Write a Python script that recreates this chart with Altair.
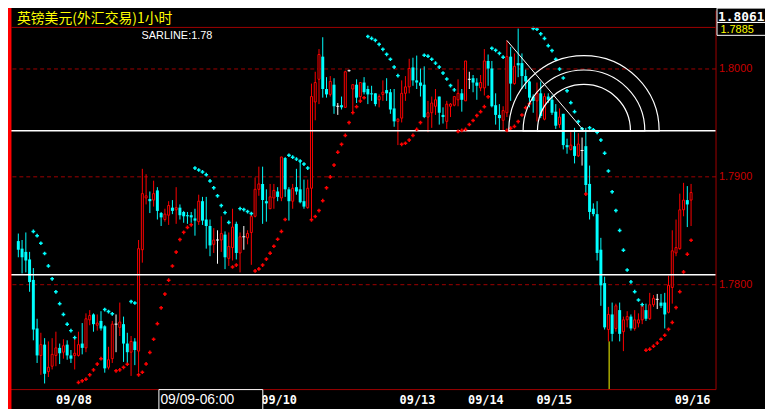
import altair as alt
import pandas as pd
import numpy as np

TITLE = "英镑美元(外汇交易)1小时"
SAR_LABEL = "SARLINE:1.78"
TOP_PRICE_LABEL = "1.8061"
CURSOR_LABEL = "09/09-06:00"

opens = [1.7840, 1.7833, 1.7830, 1.7823, 1.7804, 1.7759, 1.7734, 1.7744, 1.7719, 1.7724,
         1.7734, 1.7741, 1.7737, 1.7744, 1.7734, 1.7734, 1.7734, 1.7745, 1.7741, 1.7767,
         1.7772, 1.7762, 1.7766, 1.7761, 1.7723, 1.7731, 1.7763, 1.7760, 1.7763, 1.7745,
         1.7737, 1.7747, 1.7738, 1.7832, 1.7880, 1.7879, 1.7878, 1.7887, 1.7866, 1.7860,
         1.7864, 1.7871, 1.7869, 1.7871, 1.7867, 1.7864, 1.7864, 1.7861, 1.7858, 1.7877,
         1.7860, 1.7854, 1.7837, 1.7841, 1.7841, 1.7846, 1.7824, 1.7834, 1.7856, 1.7829,
         1.7844, 1.7843, 1.7848, 1.7863, 1.7888, 1.7893, 1.7877, 1.7870, 1.7880, 1.7886,
         1.7880, 1.7917, 1.7888, 1.7877, 1.7890, 1.7888, 1.7877, 1.7871, 1.7889, 1.7969,
         1.7990, 1.8011, 1.7981, 1.7976, 1.7985, 1.7965, 1.7966, 1.7964, 1.7998, 1.7981,
         1.7985, 1.7974, 1.7987, 1.7981, 1.7977, 1.7977, 1.7971, 1.7976, 1.7980, 1.7978,
         1.7963, 1.7951, 1.7954, 1.7977, 1.7983, 1.8001, 1.7989, 1.7987, 1.7985, 1.7955,
         1.7959, 1.7965, 1.7974, 1.7957, 1.7951, 1.7965, 1.7966, 1.7971, 1.7977, 1.7970,
         1.7990, 1.7991, 1.7987, 1.7982, 1.7982, 1.8007, 1.8000, 1.7966, 1.7957, 1.7952,
         1.7959, 1.8011, 1.7986, 1.8005, 1.8005, 1.7993, 1.7988, 1.7974, 1.7970, 1.7977,
         1.7953, 1.7974, 1.7971, 1.7960, 1.7948, 1.7958, 1.7929, 1.7925, 1.7928, 1.7919,
         1.7924, 1.7928, 1.7893, 1.7870, 1.7865, 1.7832, 1.7801, 1.7758, 1.7772, 1.7759,
         1.7776, 1.7756, 1.7767, 1.7770, 1.7759, 1.7764, 1.7767, 1.7776, 1.7768, 1.7781,
         1.7786, 1.7783, 1.7783, 1.7774, 1.7797, 1.7829, 1.7833, 1.7869, 1.7878, 1.7878]

highs = [1.7847, 1.7841, 1.7848, 1.7830, 1.7815, 1.7768, 1.7755, 1.7750, 1.7747, 1.7750,
         1.7756, 1.7745, 1.7749, 1.7748, 1.7739, 1.7750, 1.7756, 1.7764, 1.7773, 1.7776,
         1.7773, 1.7772, 1.7775, 1.7762, 1.7742, 1.7766, 1.7772, 1.7783, 1.7770, 1.7755,
         1.7752, 1.7750, 1.7841, 1.7907, 1.7902, 1.7886, 1.7896, 1.7890, 1.7867, 1.7870,
         1.7877, 1.7878, 1.7890, 1.7874, 1.7868, 1.7867, 1.7867, 1.7870, 1.7883, 1.7881,
         1.7881, 1.7860, 1.7852, 1.7850, 1.7863, 1.7849, 1.7848, 1.7870, 1.7858, 1.7848,
         1.7854, 1.7850, 1.7866, 1.7899, 1.7909, 1.7909, 1.7888, 1.7893, 1.7893, 1.7890,
         1.7918, 1.7918, 1.7890, 1.7893, 1.7907, 1.7915, 1.7897, 1.7897, 1.7986, 1.7997,
         1.8018, 1.8029, 1.7992, 1.7993, 1.7991, 1.7968, 1.7974, 1.7998, 1.7999, 1.7985,
         1.7990, 1.7987, 1.7992, 1.7984, 1.7984, 1.7977, 1.7976, 1.7989, 1.7991, 1.7981,
         1.7981, 1.7954, 1.7989, 1.7993, 1.8009, 1.8010, 1.8012, 1.8000, 1.8002, 1.7970,
         1.7974, 1.7981, 1.7974, 1.7964, 1.7970, 1.7968, 1.7974, 1.7990, 1.7981, 1.8007,
         1.7997, 1.7994, 1.7991, 1.7994, 1.8018, 1.8013, 1.8007, 1.7977, 1.7967, 1.7965,
         1.8026, 1.8020, 1.8014, 1.8037, 1.8014, 1.7999, 1.7989, 1.7976, 1.7987, 1.7988,
         1.7977, 1.7977, 1.7975, 1.7967, 1.7963, 1.7958, 1.7935, 1.7941, 1.7945, 1.7940,
         1.7936, 1.7945, 1.7910, 1.7875, 1.7877, 1.7843, 1.7807, 1.7779, 1.7783, 1.7782,
         1.7783, 1.7770, 1.7775, 1.7772, 1.7776, 1.7773, 1.7782, 1.7782, 1.7792, 1.7790,
         1.7791, 1.7791, 1.7792, 1.7808, 1.7850, 1.7860, 1.7884, 1.7894, 1.7891, 1.7893]

lows = [1.7825, 1.7810, 1.7811, 1.7793, 1.7748, 1.7727, 1.7716, 1.7708, 1.7714, 1.7721,
        1.7724, 1.7726, 1.7731, 1.7730, 1.7727, 1.7721, 1.7733, 1.7735, 1.7737, 1.7762,
        1.7756, 1.7757, 1.7757, 1.7718, 1.7721, 1.7727, 1.7737, 1.7752, 1.7728, 1.7727,
        1.7715, 1.7725, 1.7718, 1.7820, 1.7874, 1.7866, 1.7872, 1.7860, 1.7854, 1.7858,
        1.7855, 1.7865, 1.7856, 1.7860, 1.7857, 1.7856, 1.7857, 1.7845, 1.7855, 1.7855,
        1.7833, 1.7826, 1.7829, 1.7819, 1.7830, 1.7814, 1.7817, 1.7822, 1.7823, 1.7811,
        1.7832, 1.7837, 1.7818, 1.7862, 1.7882, 1.7856, 1.7858, 1.7870, 1.7870, 1.7877,
        1.7877, 1.7881, 1.7859, 1.7870, 1.7883, 1.7875, 1.7870, 1.7870, 1.7861, 1.7952,
        1.7967, 1.7973, 1.7973, 1.7974, 1.7958, 1.7957, 1.7962, 1.7964, 1.7997, 1.7959,
        1.7968, 1.7971, 1.7976, 1.7967, 1.7970, 1.7965, 1.7964, 1.7970, 1.7970, 1.7958,
        1.7946, 1.7929, 1.7950, 1.7970, 1.7977, 1.7984, 1.7981, 1.7974, 1.7954, 1.7941,
        1.7945, 1.7957, 1.7948, 1.7949, 1.7944, 1.7955, 1.7965, 1.7965, 1.7960, 1.7970,
        1.7981, 1.7978, 1.7971, 1.7979, 1.7975, 1.7984, 1.7964, 1.7948, 1.7942, 1.7942,
        1.7955, 1.7970, 1.7985, 1.7992, 1.7981, 1.7981, 1.7964, 1.7959, 1.7951, 1.7954,
        1.7952, 1.7968, 1.7957, 1.7944, 1.7945, 1.7925, 1.7921, 1.7924, 1.7912, 1.7918,
        1.7910, 1.7884, 1.7860, 1.7863, 1.7822, 1.7780, 1.7758, 1.7747, 1.7747, 1.7756,
        1.7747, 1.7738, 1.7760, 1.7757, 1.7757, 1.7760, 1.7763, 1.7766, 1.7767, 1.7779,
        1.7777, 1.7778, 1.7759, 1.7773, 1.7782, 1.7826, 1.7832, 1.7863, 1.7853, 1.7854]

closes = [1.7832, 1.7825, 1.7822, 1.7802, 1.7758, 1.7734, 1.7744, 1.7717, 1.7723, 1.7735,
          1.7741, 1.7736, 1.7743, 1.7734, 1.7731, 1.7736, 1.7744, 1.7741, 1.7768, 1.7771,
          1.7763, 1.7764, 1.7759, 1.7722, 1.7730, 1.7763, 1.7763, 1.7765, 1.7745, 1.7737,
          1.7747, 1.7739, 1.7833, 1.7884, 1.7882, 1.7877, 1.7884, 1.7868, 1.7862, 1.7865,
          1.7873, 1.7868, 1.7871, 1.7864, 1.7863, 1.7863, 1.7862, 1.7859, 1.7877, 1.7859,
          1.7854, 1.7836, 1.7841, 1.7841, 1.7847, 1.7825, 1.7835, 1.7853, 1.7829, 1.7844,
          1.7844, 1.7847, 1.7863, 1.7888, 1.7893, 1.7878, 1.7875, 1.7881, 1.7887, 1.7881,
          1.7918, 1.7888, 1.7877, 1.7889, 1.7886, 1.7876, 1.7872, 1.7889, 1.7974, 1.7987,
          1.8013, 1.7981, 1.7976, 1.7988, 1.7965, 1.7965, 1.7964, 1.7997, 1.7998, 1.7985,
          1.7973, 1.7987, 1.7978, 1.7976, 1.7976, 1.7967, 1.7974, 1.7978, 1.7977, 1.7962,
          1.7951, 1.7953, 1.7977, 1.7983, 1.8000, 1.7989, 1.7987, 1.7984, 1.7955, 1.7959,
          1.7968, 1.7971, 1.7959, 1.7955, 1.7967, 1.7967, 1.7974, 1.7977, 1.7971, 1.8007,
          1.7990, 1.7987, 1.7984, 1.7987, 1.8007, 1.8000, 1.7965, 1.7957, 1.7954, 1.7961,
          1.8011, 1.7986, 1.8002, 1.8003, 1.7993, 1.7988, 1.7973, 1.7970, 1.7977, 1.7956,
          1.7974, 1.7971, 1.7959, 1.7947, 1.7955, 1.7929, 1.7927, 1.7929, 1.7919, 1.7930,
          1.7924, 1.7892, 1.7867, 1.7865, 1.7829, 1.7799, 1.7760, 1.7772, 1.7754, 1.7780,
          1.7754, 1.7767, 1.7770, 1.7759, 1.7767, 1.7767, 1.7780, 1.7768, 1.7781, 1.7787,
          1.7786, 1.7780, 1.7772, 1.7799, 1.7831, 1.7834, 1.7869, 1.7878, 1.7874, 1.7885]

sar = [None, None, None, None,
       1.78490, 1.78450, 1.78380, 1.78285, 1.78170, 1.78050, 1.77930, 1.77820, 1.77720, 1.77630, 1.77570, 1.77505,
       1.77090, 1.77105, 1.77120, 1.77160, 1.77206, 1.77260, 1.77310,
       1.77765, 1.77747, 1.77726,
       1.77197, 1.77206, 1.77230, 1.77258,
       1.77839, 1.77826,
       1.77160, 1.77184, 1.77261, 1.77368, 1.77490, 1.77634, 1.77781, 1.77909, 1.78038, 1.78169, 1.78298, 1.78414, 1.78481, 1.78527, 1.78551,
       1.79077, 1.79059, 1.79041, 1.79016, 1.78958, 1.78894, 1.78820, 1.78729, 1.78664, 1.78573,
       1.78160, 1.78178,
       1.78701, 1.78692, 1.78674, 1.78655,
       1.78123, 1.78142, 1.78178, 1.78233, 1.78288, 1.78352, 1.78417, 1.78490, 1.78600,
       1.79196, 1.79178, 1.79160, 1.79142, 1.79114, 1.79077,
       1.78597, 1.78628, 1.78683, 1.78775, 1.78894, 1.78995, 1.79105, 1.79224, 1.79297, 1.79380, 1.79499, 1.79591, 1.79646, 1.79698, 1.79729,
       1.80297, 1.80279, 1.80261, 1.80224, 1.80178, 1.80132, 1.80086, 1.80013, 1.79934,
       1.79297, 1.79307, 1.79337, 1.79380, 1.79435, 1.79499,
       1.80123, 1.80114, 1.80086, 1.80050, 1.80013, 1.79958, 1.79903, 1.79842, 1.79802,
       1.79417, 1.79426, 1.79435, 1.79481, 1.79518, 1.79564, 1.79600, 1.79646, 1.79738,
       1.80187, 1.80169, 1.80141, 1.80105,
       1.79426, 1.79447, 1.79463, 1.79508, 1.79569, 1.79637, 1.79674,
       1.80371, 1.80364, 1.80322, 1.80279, 1.80212, 1.80166, 1.80086, 1.79995, 1.79912, 1.79793, 1.79683, 1.79600, 1.79508, 1.79441,
       1.78836,
       1.79450, 1.79432, 1.79408, 1.79337, 1.79215, 1.79050, 1.78857, 1.78683, 1.78499, 1.78316, 1.78132, 1.78022, 1.77931, 1.77854, 1.77811,
       1.77389, 1.77398, 1.77426, 1.77454, 1.77490, 1.77527, 1.77582, 1.77646, 1.77784, 1.77931, 1.78114, 1.78279, 1.78408]

date_labels = ["09/08", "09/10", "09/13", "09/14", "09/15", "09/16"]
date_pos = [14.8, 69.4, 106.2, 124.4, 142.6, 179.4]

level_lines = [1.79422, 1.78089]
grid_levels = [1.78, 1.79, 1.80]

fib_bars = [130, 150.5]
fib_prices = [1.8026, 1.79422]
fib_radii = [76, 61.5, 47]

cursor_bar = [157.2]
cursor_price = [1.7747]

# ---------------- geometry / styles ----------------
W, H = 715, 383
X_DOMAIN = [-1.428, 184.19]
Y_DOMAIN = [1.770279, 1.805416]
DARK = "#a00000"
LABEL_RED = "#c80000"
RED = "#ff0000"
CYAN = "#00ffff"

xs = alt.Scale(domain=X_DOMAIN, nice=False, zero=False)
ys = alt.Scale(domain=Y_DOMAIN, nice=False, zero=False)
x_axis = alt.Axis(labels=False, ticks=False, grid=False, title=None,
                  domainColor=DARK, domainWidth=1)
y_axis = alt.Axis(orient="right", values=grid_levels, format=".4f", grid=True,
                  gridColor=DARK, gridDash=[4, 3], gridWidth=1, ticks=False,
                  domainColor=DARK, domainWidth=1, labelColor=LABEL_RED,
                  labelFont="Liberation Sans", labelFontSize=11, labelPadding=3,
                  title=None)


def X(f):
    return alt.X(f, type="quantitative", scale=xs, axis=x_axis)


def Y(f):
    return alt.Y(f, type="quantitative", scale=ys, axis=y_axis)


df = pd.DataFrame({"i": np.arange(len(opens)), "open": opens, "high": highs,
                   "low": lows, "close": closes})
df["dir"] = np.where(df.close > df.open, "up", np.where(df.close < df.open, "down", "flat"))

sdf = pd.DataFrame({"i": np.arange(len(sar)), "sar": sar, "close": closes}).dropna()
sdf["side"] = np.where(sdf.sar > sdf.close, "down", "up")

base = alt.Chart(df)
dir_color = alt.Color("dir:N", scale=alt.Scale(domain=["up", "down", "flat"],
                                               range=[RED, CYAN, "#ffffff"]), legend=None)

wicks = base.mark_rule(strokeWidth=1).encode(x=X("i"), y=Y("low"), y2="high", color=dir_color)
down_body = base.transform_filter("datum.dir == 'down'").mark_bar(size=3, color=CYAN).encode(
    x=X("i"), y=Y("open"), y2="close")
up_body = base.transform_filter("datum.dir == 'up'").mark_bar(
    size=2, fill="#000000", stroke=RED, strokeWidth=1).encode(x=X("i"), y=Y("open"), y2="close")
doji = base.transform_filter("datum.dir == 'flat'").mark_point(
    shape="M-1,0H1", size=9, stroke="#ffffff", strokeWidth=1, filled=False, opacity=1).encode(
    x=X("i"), y=Y("close"))

sar_pts = alt.Chart(sdf).mark_point(shape="cross", filled=True, size=14, opacity=1).encode(
    x=X("i"), y=Y("sar"),
    color=alt.Color("side:N", scale=alt.Scale(domain=["up", "down"], range=[RED, CYAN]), legend=None))

levels = alt.Chart(pd.DataFrame({"level": level_lines})).mark_rule(
    color="#ffffff", strokeWidth=1.5).encode(y=Y("level"))

fib_line = alt.Chart(pd.DataFrame({"i": fib_bars, "p": fib_prices})).mark_line(
    color="#ffffff", strokeWidth=1).encode(x=X("i"), y=Y("p"))

center_df = pd.DataFrame({"i": [fib_bars[1]], "p": [fib_prices[1]]})
arc_layers = [
    alt.Chart(center_df).mark_arc(
        radius=r, theta=3 * np.pi / 2, theta2=5 * np.pi / 2, fillOpacity=0,
        stroke="#ffffff", strokeWidth=1.2).encode(x=X("i"), y=Y("p"))
    for r in fib_radii
]

cursor = alt.Chart(pd.DataFrame({"i": cursor_bar, "p": cursor_price})).mark_rule(
    color="#ffff00", strokeWidth=1).encode(x=X("i"), y=Y("p"), y2=alt.value(H))

one = pd.DataFrame({"a": [0]})

left_bar = alt.Chart(one).mark_rect(color=RED).encode(
    x=alt.value(0), x2=alt.value(3.5), y=alt.value(-2), y2=alt.value(H + 20))
sep = alt.Chart(one).mark_rule(color=DARK, strokeWidth=1).encode(
    x=alt.value(3), x2=alt.value(W), y=alt.value(17.5))
title = alt.Chart(pd.DataFrame({"t": [TITLE]})).mark_text(
    align="left", baseline="top", font="Noto Sans CJK SC", fontSize=14,
    color="#ffff00").encode(text="t:N", x=alt.value(9), y=alt.value(2.5))
sar_text = alt.Chart(pd.DataFrame({"t": [SAR_LABEL]})).mark_text(
    align="left", baseline="alphabetic", font="Liberation Sans", fontSize=11,
    color="#ffffff").encode(text="t:N", x=alt.value(135), y=alt.value(29))

dates = alt.Chart(pd.DataFrame({"d": date_labels, "pos": date_pos})).mark_text(
    align="center", baseline="alphabetic", font="DejaVu Sans Mono", fontWeight="bold",
    fontSize=12, color="#ffffff").encode(x=X("pos"), y=alt.value(H + 15), text="d:N")

cursor_box = alt.Chart(one).mark_rect(fill="#000000", stroke="#ffffff", strokeWidth=1).encode(
    x=alt.value(152.5), x2=alt.value(257.5), y=alt.value(H + 0.5), y2=alt.value(H + 22))
cursor_text = alt.Chart(pd.DataFrame({"t": [CURSOR_LABEL]})).mark_text(
    align="left", baseline="alphabetic", font="Liberation Sans", fontSize=14,
    color="#ffffff").encode(text="t:N", x=alt.value(154), y=alt.value(H + 15.5))

top_box = alt.Chart(one).mark_rect(fill="#000000", stroke="#ffffff", strokeWidth=1).encode(
    x=alt.value(716.5), x2=alt.value(770), y=alt.value(-2), y2=alt.value(12.5))
top_text = alt.Chart(pd.DataFrame({"t": [TOP_PRICE_LABEL]})).mark_text(
    align="left", baseline="alphabetic", font="DejaVu Sans Mono", fontWeight="bold",
    fontSize=13, color="#ffffff").encode(text="t:N", x=alt.value(717.5), y=alt.value(11))
last_box = alt.Chart(one).mark_rect(fill="#000000", stroke="#ffffff", strokeWidth=1).encode(
    x=alt.value(716.5), x2=alt.value(770), y=alt.value(12.5), y2=alt.value(25.5))
last_text = alt.Chart(pd.DataFrame({"t": [f"{closes[-1]:.4f}"]})).mark_text(
    align="left", baseline="alphabetic", font="Liberation Sans", fontSize=11,
    color="#ffff00").encode(text="t:N", x=alt.value(720), y=alt.value(23))

chart = alt.layer(
    wicks, down_body, up_body, doji, levels, sar_pts, fib_line, *arc_layers, cursor,
    left_bar, sep, title, sar_text, dates, cursor_box, cursor_text,
    top_box, top_text, last_box, last_text,
).properties(
    width=W, height=H,
    padding={"left": 0, "top": 0, "right": 50, "bottom": 18},
    autosize=alt.AutoSizeParams(type="none"),
    background="#000000",
).configure_view(strokeWidth=0)

chart.save("out.html", embed_options={"renderer": "svg", "actions": False})
